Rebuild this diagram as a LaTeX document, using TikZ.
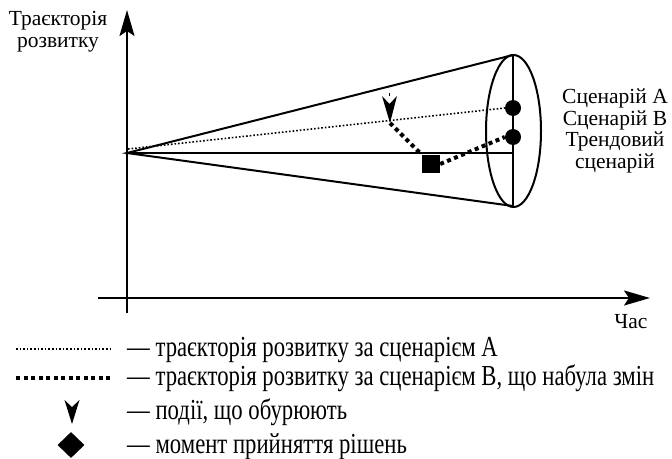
\documentclass[tikz,border=0pt]{standalone}
\usepackage{fontspec}
\usepackage{graphicx}
\setmainfont{Liberation Serif}
\usetikzlibrary{arrows.meta,shapes.geometric}
\begin{document}
\begin{tikzpicture}[x=1pt,y=-1pt,
  axis/.style={line width=2pt,-{Stealth[length=26pt,width=15pt,inset=5pt]}},
  mainline/.style={line width=2pt},
  thindot/.style={line width=1.6pt,dash pattern=on 1.6pt off 2pt},
  thickdot/.style={line width=4pt,dash pattern=on 4pt off 3.5pt},
  evhead/.style={fill=black,line join=miter},
  bigdot/.style={circle,fill=black,inner sep=0pt,minimum size=16pt},
  decbox/.style={rectangle,fill=black,inner sep=0pt,minimum size=18pt},
  decdiam/.style={diamond,fill=black,inner sep=0pt,minimum width=27pt,minimum height=26pt},
  lbl/.style={font=\fontsize{21.5}{21.5}\selectfont,inner sep=0pt,align=center},
  legtext/.style={font=\fontsize{29}{29}\selectfont,inner sep=0pt,anchor=base west}
]
\useasboundingbox (0,0) rectangle (672,458);
% axes
\coordinate (yb) at (127,313);
\coordinate (yt) at (127,10);
\coordinate (xl) at (98,298);
\coordinate (xr) at (650,298);
\draw[axis] (yb) -- (yt);
\draw[axis] (xl) -- (xr);
\node[lbl,anchor=base] (ylab) at (58,47) {Траєкторія\\розвитку};
\node[lbl,anchor=base] (xlab) at (631,328) {Час};
% cone
\coordinate (O) at (127,153);
\coordinate (OA) at (128,149);
\coordinate (T) at (513,55);
\coordinate (Bt) at (513,206);
\coordinate (M) at (513,153);
\draw[mainline] (T) -- (O) -- (Bt);
\draw[mainline] (O) -- (M);
\draw[mainline] (T) -- (Bt);
\draw[mainline] (513.5,131) ellipse [x radius=27.5, y radius=76];
\node[bigdot] (dotA) at (513,108) {};
\node[bigdot] (dotB) at (513,137) {};
% scenario A
\draw[thindot] (OA) -- (dotA.west);
% event and scenario B
\coordinate (ev1) at (389.5,96);
\coordinate (ev2) at (390,123);
\draw[line width=1.5pt] (ev1) ++(0,-3) -- (ev1);
\fill[evhead] (ev1) ++(-7.5,0) -- ++(7.5,8) -- ++(7.5,-8) -- (ev2) -- cycle;
\node[decbox] (sq) at (431,164) {};
\draw[thickdot] (ev2) -- (sq.north west);
\draw[thickdot] (sq.east) -- (dotB.west);
% right labels
\node[lbl,anchor=base] (sc) at (615,168) {Сценарій А\\Сценарій В\\Трендовий\\сценарій};
% legend
\coordinate (a1) at (16,349);
\coordinate (a2) at (113,349);
\draw[thindot] (a1) -- (a2);
\coordinate (b1) at (16,378);
\coordinate (b2) at (113,378);
\draw[thickdot] (b1) -- (b2);
\coordinate (c1) at (72,400);
\coordinate (c2) at (72,424);
\fill[evhead] (c1) ++(-7.5,0) -- ++(7.5,7) -- ++(7.5,-7) -- (c2) -- cycle;
\node[decdiam] (dm) at (71,445) {};
\node[legtext] (l1) at (127,356) {\scalebox{0.783}[1]{— траєкторія розвитку за сценарієм А}};
\node[legtext] (l2) at (127,385) {\scalebox{0.783}[1]{— траєкторія розвитку за сценарієм В, що набула змін}};
\node[legtext] (l3) at (127,419) {\scalebox{0.783}[1]{— події, що обурюють}};
\node[legtext] (l4) at (127,453) {\scalebox{0.783}[1]{— момент прийняття рішень}};
\end{tikzpicture}
\end{document}
